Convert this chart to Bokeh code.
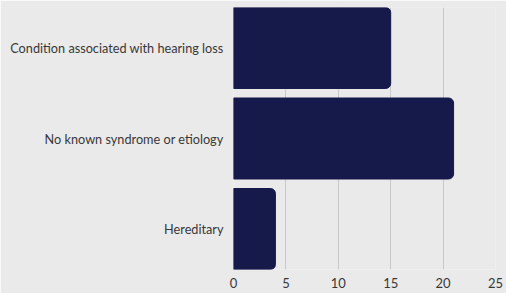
from bokeh.plotting import figure
from bokeh.models import FactorRange
from bokeh.embed import file_html
from bokeh.resources import INLINE

categories = ["Condition associated with hearing loss", "No known syndrome or etiology", "Hereditary"]
counts = [15, 21, 4]
x_ticks = [0, 5, 10, 15, 20, 25]

BG = "#eaeaea"
BAR = "#161a4a"
TXT = "#383838"

factors = list(reversed(categories))
p = figure(width=506, height=293, output_backend="svg", toolbar_location=None,
           y_range=FactorRange(factors=factors, range_padding=-0.0525, range_padding_units="absolute"),
           x_range=(0, 25),
           min_border_left=233, min_border_right=11, min_border_top=7, min_border_bottom=24)
p.background_fill_color = BG
p.border_fill_color = BG
p.outline_line_color = None

p.hbar(y=categories, right=counts, left=0, height=0.895, fill_color=BAR, line_color=BAR,
       border_radius=(0, 5, 5, 0))

p.xaxis.ticker = x_ticks
p.xaxis.axis_line_color = None
p.xaxis.major_tick_line_color = None
p.xaxis.minor_tick_line_color = None
p.xaxis.major_tick_out = 0
p.xaxis.major_tick_in = 0
p.xaxis.major_label_standoff = 8
p.xaxis.major_label_text_font = "Lato"
p.xaxis.major_label_text_font_size = "13px"
p.xaxis.major_label_text_color = TXT

p.yaxis.axis_line_color = None
p.yaxis.major_tick_line_color = None
p.yaxis.major_tick_out = 0
p.yaxis.major_tick_in = 0
p.yaxis.major_label_standoff = 10
p.yaxis.major_label_text_font = "Lato"
p.yaxis.major_label_text_font_size = "12.7px"
p.yaxis.major_label_text_color = TXT

p.xgrid.grid_line_color = "#c9c9c9"
p.xgrid.grid_line_width = 1
p.ygrid.grid_line_color = None

open("out.html", "w").write(file_html(p, INLINE))
